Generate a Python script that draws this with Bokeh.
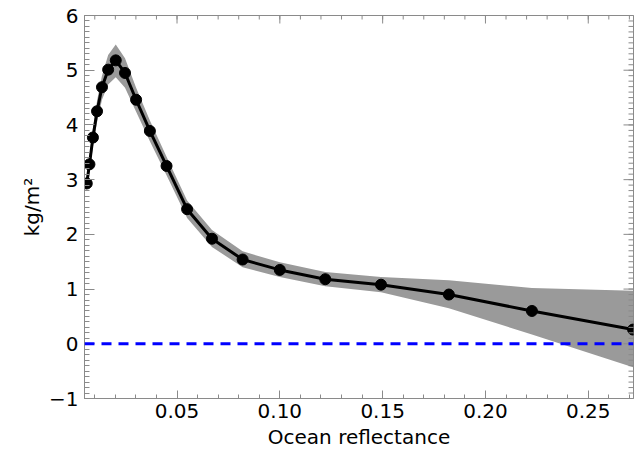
import math
from bokeh.plotting import figure
from bokeh.models import Range1d, FixedTicker, Span
from bokeh.embed import file_html
from bokeh.resources import INLINE

# Data
reflectance = [0.0061, 0.0074, 0.0091, 0.0111, 0.0135, 0.0165, 0.0202, 0.0247, 0.0301, 0.0368,
               0.0449, 0.0549, 0.0670, 0.0819, 0.1000, 0.1221, 0.1492, 0.1822, 0.2226, 0.2718]
value = [2.93, 3.28, 3.77, 4.25, 4.69, 5.01, 5.18, 4.95, 4.46, 3.89,
         3.25, 2.46, 1.92, 1.54, 1.35, 1.18, 1.08, 0.90, 0.60, 0.26]
upper = [3.08, 3.44, 3.93, 4.44, 4.90, 5.28, 5.47, 5.22, 4.68, 4.08,
         3.42, 2.62, 2.08, 1.69, 1.49, 1.31, 1.22, 1.16, 1.02, 0.97]
lower = [2.78, 3.12, 3.60, 4.05, 4.46, 4.74, 4.87, 4.68, 4.24, 3.70,
         3.08, 2.30, 1.77, 1.40, 1.22, 1.05, 0.94, 0.65, 0.17, -0.43]
baseline = 0.0

x_lim = [0.005, 0.272]
y_lim = [-1, 6]
x_major = [0.05, 0.10, 0.15, 0.20, 0.25]
x_labels = {0.05: "0.05", 0.10: "0.10", 0.15: "0.15", 0.20: "0.20", 0.25: "0.25"}
x_minor = [round(0.01 * i, 2) for i in range(1, 28)]
y_major = [-1, 0, 1, 2, 3, 4, 5, 6]
y_minor = [round(-1 + 0.1 * i, 1) for i in range(0, 71)]

FONT = "DejaVu Sans"
AX = "#8a8a8a"

p = figure(width=638, height=459, output_backend="svg", toolbar_location=None,
           x_range=Range1d(*x_lim), y_range=Range1d(*y_lim),
           min_border_left=84, min_border_right=5, min_border_top=15, min_border_bottom=61,
           x_axis_label="Ocean reflectance", y_axis_label="kg/m²")
p.grid.visible = False
p.background_fill_color = "white"
p.border_fill_color = "white"
p.outline_line_color = AX
p.outline_line_width = 1

xt = FixedTicker(ticks=x_major, minor_ticks=x_minor)
yt = FixedTicker(ticks=y_major, minor_ticks=y_minor)

def style(ax, major, minor):
    ax.axis_line_color = AX
    ax.major_tick_line_color = AX
    ax.minor_tick_line_color = AX
    ax.major_tick_in = major
    ax.major_tick_out = 0
    ax.minor_tick_in = minor
    ax.minor_tick_out = 0
    ax.major_label_text_font = FONT
    ax.major_label_text_font_size = "20px"
    ax.major_label_text_color = "black"
    ax.axis_label_text_font = FONT
    ax.axis_label_text_font_size = "20px"
    ax.axis_label_text_font_style = "normal"
    ax.axis_label_text_color = "black"

xa = p.xaxis[0]
xa.ticker = xt
xa.major_label_overrides = x_labels
style(xa, 8, 4)
xa.major_label_standoff = 5
xa.axis_label_standoff = 4

ya = p.yaxis[0]
ya.ticker = yt
style(ya, 10, 5)
ya.major_label_standoff = 6
ya.axis_label_standoff = 2

p.varea(x=reflectance, y1=lower, y2=upper, fill_color="#9a9a9a", fill_alpha=1.0)
p.add_layout(Span(location=baseline, dimension="width", line_color="#0000ff",
                  line_width=3, line_dash="10 7"))
p.line(reflectance, value, line_color="black", line_width=3)
p.scatter(reflectance, value, size=11, fill_color="black", line_color="black")

# inward ticks on the top and right edges of the box (clipped to the frame)
p.scatter(x_minor, [y_lim[1]] * len(x_minor), marker="dash", angle=math.pi / 2,
          size=8, line_color=AX, line_width=1)
p.scatter(x_major, [y_lim[1]] * len(x_major), marker="dash", angle=math.pi / 2,
          size=16, line_color=AX, line_width=1)
p.scatter([x_lim[1]] * len(y_minor), y_minor, marker="dash",
          size=10, line_color=AX, line_width=1)
p.scatter([x_lim[1]] * len(y_major), y_major, marker="dash",
          size=20, line_color=AX, line_width=1)

open("out.html", "w").write(file_html(p, INLINE))
